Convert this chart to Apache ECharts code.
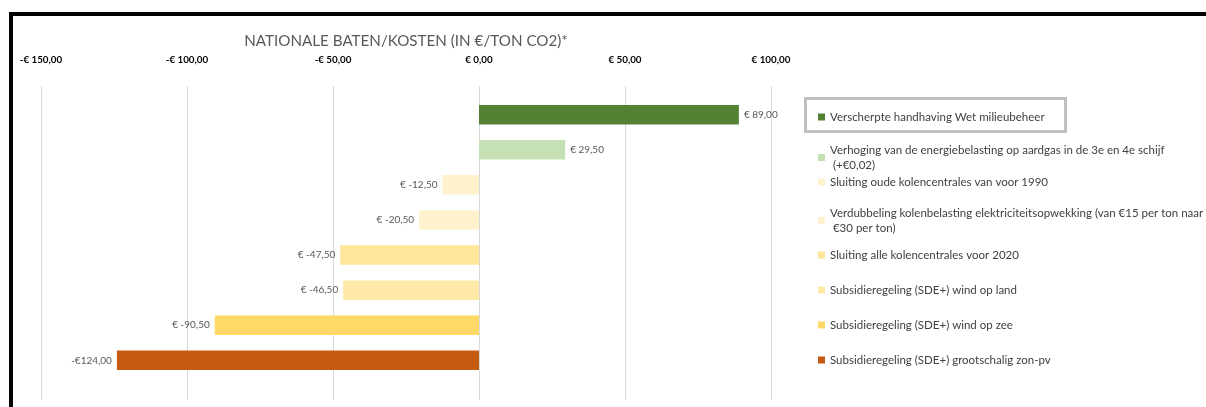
<!DOCTYPE html>
<html>
<head>
<meta charset="utf-8">
<script src="https://cdn.jsdelivr.net/npm/echarts@6/dist/echarts.min.js"></script>
<style>
html,body{margin:0;padding:0;background:#fff;}
#chart{width:1206px;height:407px;}
</style>
</head>
<body>
<div id="chart"></div>
<script>
// ---- data ----
var seriesNames = [
  'Verscherpte handhaving Wet milieubeheer',
  'Verhoging van de energiebelasting op aardgas in de 3e en 4e schijf (+€0,02)',
  'Sluiting oude kolencentrales van voor 1990',
  'Verdubbeling kolenbelasting elektriciteitsopwekking (van €15 per ton naar €30 per ton)',
  'Sluiting alle kolencentrales voor 2020',
  'Subsidieregeling (SDE+) wind op land',
  'Subsidieregeling (SDE+) wind op zee',
  'Subsidieregeling (SDE+) grootschalig zon-pv'
];
var seriesValues = [89.0, 29.5, -12.5, -20.5, -47.5, -46.5, -90.5, -124.0];
var valueLabels = ['€ 89,00', '€ 29,50', '€ -12,50', '€ -20,50', '€ -47,50', '€ -46,50', '€ -90,50', '-€124,00'];
var seriesColors = ['#548235', '#C5E0B4', '#FFF2CC', '#FFF2CC', '#FFE699', '#FFE9A6', '#FFD966', '#C55A11'];
var axisMin = -150, axisMax = 100, axisStep = 50;
var titleText = 'NATIONALE BATEN/KOSTEN (IN €/TON CO2)*';

// layout of the legend entries (one legend per entry, aligned with its bar)
var legendTops = [109.5, 142.5, 174.5, 205.5, 247.5, 282.5, 317.5, 352.5];
var legendTextWidths = [390, 338, 390, 382, 390, 390, 390, 390];

function tickLabel(v) {
  var s = Math.abs(v).toFixed(2).replace('.', ',');
  return (v < 0 ? '-€ ' : '€ ') + s;
}

var FONT = 'Lato, "Open Sans", sans-serif';
var chart = echarts.init(document.getElementById('chart'), null, {renderer: 'canvas'});

var series = seriesNames.map(function (name, i) {
  return {
    type: 'bar',
    name: name,
    xAxisIndex: 1,
    yAxisIndex: 1,
    data: [seriesValues[i]],
    barWidth: 19.5,
    barGap: '80%',
    itemStyle: {color: seriesColors[i]},
    label: {
      show: true,
      position: seriesValues[i] >= 0 ? 'right' : 'left',
      distance: 5,
      fontFamily: FONT,
      fontSize: 10,
      color: '#595959',
      formatter: function () { return valueLabels[i]; }
    },
    emphasis: {disabled: true}
  };
});

var legends = seriesNames.map(function (name, i) {
  return {
    data: [name],
    orient: 'vertical',
    left: 818,
    top: legendTops[i],
    padding: 0,
    icon: 'rect',
    itemWidth: 7,
    itemHeight: 7,
    selectedMode: false,
    textStyle: {
      fontFamily: FONT,
      fontSize: 11.5,
      color: '#404040',
      width: legendTextWidths[i],
      overflow: 'break',
      lineHeight: 15
    }
  };
});

var option = {
  animation: false,
  backgroundColor: '#ffffff',
  title: {
    text: titleText,
    left: 406,
    textAlign: 'center',
    top: 34,
    padding: 0,
    textStyle: {fontFamily: FONT, fontSize: 15.2, fontWeight: 'normal', color: '#595959'}
  },
  legend: legends,
  grid: [
    {left: 41, width: 730, top: 86, height: 314},
    {left: 41, width: 730, top: 97, height: 281}
  ],
  xAxis: [
    {
      type: 'value', gridIndex: 0, position: 'top',
      min: axisMin, max: axisMax, interval: axisStep,
      axisLine: {show: false}, axisTick: {show: false},
      splitLine: {show: true, lineStyle: {color: '#D9D9D9', width: 1}},
      axisLabel: {
        margin: 21, fontFamily: FONT, fontSize: 9.8, fontWeight: 'bold', color: '#000000',
        formatter: tickLabel
      }
    },
    {
      type: 'value', gridIndex: 1, min: axisMin, max: axisMax, interval: axisStep,
      show: false, splitLine: {show: false}
    }
  ],
  yAxis: [
    {type: 'category', gridIndex: 0, data: [''], show: false},
    {type: 'category', gridIndex: 1, data: [''], show: false}
  ],
  series: series,
  graphic: [
    {type: 'line', shape: {x1: 9, y1: 14, x2: 1206, y2: 14}, style: {stroke: '#000', lineWidth: 4}, silent: true},
    {type: 'line', shape: {x1: 11, y1: 12, x2: 11, y2: 407}, style: {stroke: '#000', lineWidth: 4}, silent: true},
    {type: 'rect', shape: {x: 805.5, y: 98.5, width: 260, height: 33}, style: {fill: 'none', stroke: '#BFBFBF', lineWidth: 3}, silent: true, z: 10}
  ]
};
chart.setOption(option);
</script>
</body>
</html>
